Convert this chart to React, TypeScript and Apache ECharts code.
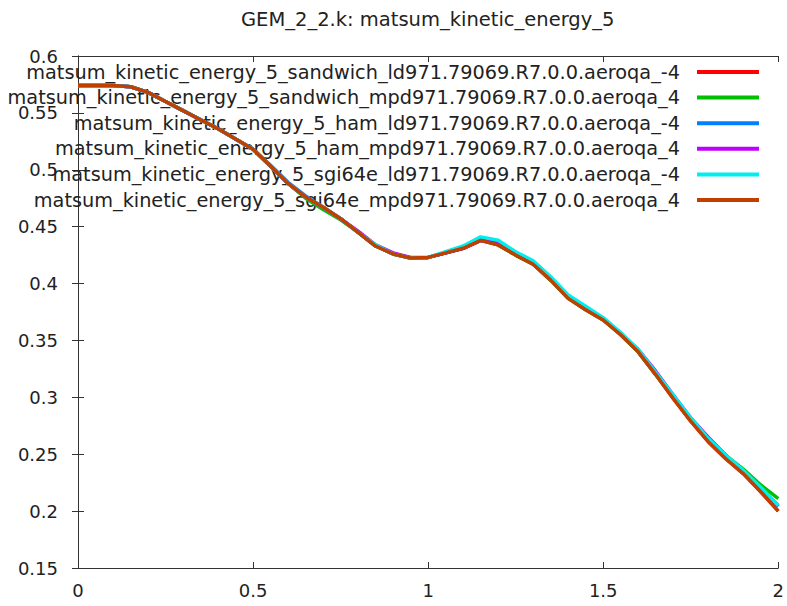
import React, { useEffect, useRef } from "react";
import * as echarts from "echarts";

const titleText = "GEM_2_2.k: matsum_kinetic_energy_5";

const xs = [
  0, 0.05, 0.1, 0.15, 0.2, 0.25, 0.3, 0.35, 0.4, 0.45, 0.5, 0.55, 0.6, 0.65, 0.7, 0.75, 0.8, 0.85, 0.9, 0.95, 1.0,
  1.05, 1.1, 1.15, 1.2, 1.25, 1.3, 1.35, 1.4, 1.45, 1.5, 1.55, 1.6, 1.65, 1.7, 1.75, 1.8, 1.85, 1.9, 1.95, 2.0,
];

const sandwichLd = [
  0.574, 0.574, 0.574, 0.573, 0.568, 0.56, 0.552, 0.544, 0.536, 0.527, 0.518, 0.503, 0.488, 0.476, 0.467, 0.457, 0.445,
  0.433, 0.426, 0.4225, 0.423, 0.427, 0.431, 0.438, 0.434, 0.425, 0.417, 0.403, 0.387, 0.377, 0.368, 0.355, 0.34, 0.32,
  0.299, 0.279, 0.261, 0.246, 0.233, 0.217, 0.2,
];
const sandwichMpd = [
  0.574, 0.574, 0.574, 0.573, 0.568, 0.56, 0.552, 0.544, 0.536, 0.527, 0.518, 0.503, 0.488, 0.475, 0.465, 0.456, 0.445,
  0.433, 0.426, 0.4225, 0.423, 0.427, 0.431, 0.438, 0.434, 0.425, 0.417, 0.403, 0.387, 0.377, 0.368, 0.355, 0.34, 0.32,
  0.3, 0.281, 0.264, 0.249, 0.237, 0.223, 0.211,
];
const hamLd = [
  0.574, 0.574, 0.574, 0.573, 0.568, 0.56, 0.552, 0.544, 0.536, 0.527, 0.518, 0.504, 0.489, 0.477, 0.467, 0.457, 0.445,
  0.433, 0.426, 0.4225, 0.423, 0.427, 0.431, 0.439, 0.436, 0.427, 0.419, 0.405, 0.389, 0.378, 0.369, 0.356, 0.341, 0.321,
  0.301, 0.281, 0.264, 0.249, 0.235, 0.22, 0.204,
];
const hamMpd = [
  0.574, 0.574, 0.574, 0.573, 0.568, 0.56, 0.552, 0.544, 0.536, 0.527, 0.518, 0.503, 0.488, 0.476, 0.467, 0.457, 0.446,
  0.434, 0.427, 0.423, 0.423, 0.427, 0.431, 0.438, 0.435, 0.426, 0.418, 0.404, 0.388, 0.378, 0.369, 0.356, 0.342, 0.323,
  0.302, 0.282, 0.265, 0.249, 0.235, 0.22, 0.205,
];
const sgiLd = [
  0.574, 0.574, 0.574, 0.573, 0.568, 0.56, 0.552, 0.544, 0.536, 0.527, 0.518, 0.503, 0.488, 0.476, 0.467, 0.457, 0.445,
  0.434, 0.426, 0.4225, 0.423, 0.428, 0.433, 0.441, 0.438, 0.428, 0.42, 0.406, 0.39, 0.38, 0.37, 0.357, 0.342, 0.322,
  0.302, 0.282, 0.264, 0.249, 0.236, 0.221, 0.205,
];
const sgiMpd = [
  0.574, 0.574, 0.574, 0.573, 0.568, 0.56, 0.552, 0.544, 0.536, 0.527, 0.518, 0.503, 0.488, 0.476, 0.467, 0.457, 0.445,
  0.433, 0.426, 0.4225, 0.423, 0.427, 0.431, 0.438, 0.434, 0.425, 0.417, 0.403, 0.387, 0.377, 0.368, 0.355, 0.34, 0.32,
  0.299, 0.279, 0.261, 0.246, 0.233, 0.217, 0.2,
];

const seriesNames = [
  "matsum_kinetic_energy_5_sandwich_ld971.79069.R7.0.0.aeroqa_-4",
  "matsum_kinetic_energy_5_sandwich_mpd971.79069.R7.0.0.aeroqa_4",
  "matsum_kinetic_energy_5_ham_ld971.79069.R7.0.0.aeroqa_-4",
  "matsum_kinetic_energy_5_ham_mpd971.79069.R7.0.0.aeroqa_4",
  "matsum_kinetic_energy_5_sgi64e_ld971.79069.R7.0.0.aeroqa_-4",
  "matsum_kinetic_energy_5_sgi64e_mpd971.79069.R7.0.0.aeroqa_4",
];
const seriesValues = [sandwichLd, sandwichMpd, hamLd, hamMpd, sgiLd, sgiMpd];
const seriesColors = ["#ff0000", "#00c000", "#0080ff", "#c000ff", "#00eeee", "#c04000"];

const FONT = "DejaVu Sans";
const TEXT = "#222";
const AXIS = "#333";

export default function App() {
  const ref = useRef<HTMLDivElement>(null);
  useEffect(() => {
    if (!ref.current) return;
    const chart = echarts.init(ref.current, undefined, { renderer: "svg" });

    const legendGraphics: any[] = [];
    seriesNames.forEach((name, i) => {
      const y = 72 + i * 25.6;
      legendGraphics.push({
        type: "text",
        x: 680,
        y,
        z: 1,
        style: {
          text: name,
          fontSize: 19.3,
          fontFamily: FONT,
          fill: TEXT,
          align: "right",
          verticalAlign: "middle",
        },
      });
      legendGraphics.push({
        type: "line",
        z: 1,
        shape: { x1: 697, y1: y, x2: 759, y2: y },
        style: { stroke: seriesColors[i], lineWidth: 4 },
      });
    });

    const axisCommon = {
      type: "value" as const,
      splitLine: { show: false },
      axisLine: { show: true, lineStyle: { color: AXIS, width: 1 } },
      axisTick: { show: true, inside: true, length: 6, lineStyle: { color: AXIS } },
    };

    chart.setOption({
      animation: false,
      backgroundColor: "#ffffff",
      title: {
        text: titleText,
        left: 236,
        top: 4,
        textStyle: { fontSize: 19.5, fontWeight: "normal", fontFamily: FONT, color: TEXT },
      },
      grid: { left: 78, right: 4, top: 56, bottom: 38, containLabel: false },
      xAxis: [
        {
          ...axisCommon,
          position: "bottom",
          min: 0,
          max: 2,
          interval: 0.5,
          axisLabel: {
            fontSize: 18,
            fontFamily: FONT,
            color: TEXT,
            margin: 13,
            formatter: (v: number) => String(+v.toFixed(2)),
          },
        },
        {
          ...axisCommon,
          position: "top",
          min: 0,
          max: 2,
          interval: 0.5,
          axisLabel: { show: false },
        },
      ],
      yAxis: [
        {
          ...axisCommon,
          position: "left",
          min: 0.15,
          max: 0.6,
          interval: 0.05,
          axisLabel: {
            fontSize: 18,
            fontFamily: FONT,
            color: TEXT,
            margin: 20,
            formatter: (v: number) => String(+v.toFixed(2)),
          },
        },
        {
          ...axisCommon,
          position: "right",
          min: 0.15,
          max: 0.6,
          interval: 0.05,
          axisLabel: { show: false },
        },
      ],
      graphic: legendGraphics,
      series: seriesNames.map((name, i) => ({
        name,
        type: "line",
        xAxisIndex: 0,
        yAxisIndex: 0,
        symbol: "none",
        showSymbol: false,
        z: 3 + i,
        lineStyle: { color: seriesColors[i], width: 3.5 },
        itemStyle: { color: seriesColors[i] },
        data: xs.map((x, j) => [x, seriesValues[i][j]]),
      })),
    });
    return () => chart.dispose();
  }, []);
  return (
    <div
      ref={ref}
      style={{ position: "absolute", left: 0, top: 0, width: 787, height: 606, background: "#fff" }}
    />
  );
}
